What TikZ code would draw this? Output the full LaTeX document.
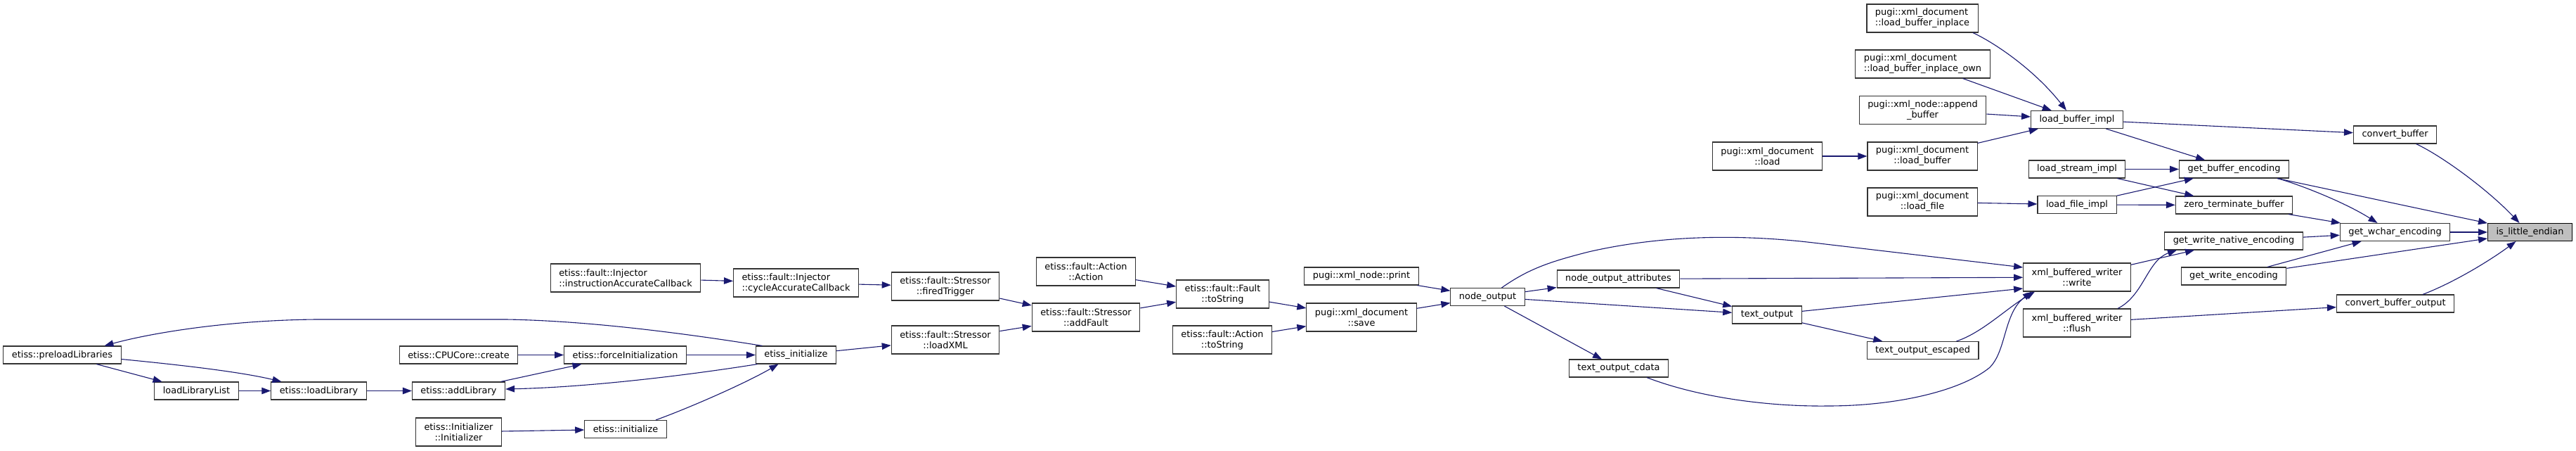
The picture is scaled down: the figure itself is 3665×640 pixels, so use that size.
\documentclass[tikz,border=0pt]{standalone}
\usepackage{fontspec}
\setmainfont{DejaVu Sans}
\usetikzlibrary{arrows.meta}
\definecolor{edgeblue}{HTML}{191970}
\definecolor{rootgray}{HTML}{BFBFBF}
\tikzset{
  fn/.style={draw=black!80, fill=white, line width=1.1pt, inner xsep=12pt, inner ysep=0pt,
    minimum height=25pt, font=\fontsize{12.9}{15}\selectfont},
  fntwo/.style={fn, minimum height=40pt, align=center},
  fnleft/.style={fn, minimum height=40pt, align=left},
  fnroot/.style={fn, draw=black, fill=rootgray},
  call/.style={draw=edgeblue, line width=1.1pt, -{Triangle[length=13pt,width=9.5pt]}}
}
\begin{document}
\begin{tikzpicture}[x=1pt, y=-1pt]
\useasboundingbox (0,0) rectangle (3665,640);
% etiss callers
\node[fn] (pre) at (88.5,504.5) {etiss::preloadLibraries};
\node[fn] (llist) at (279.5,555.5) {loadLibraryList};
\node[fn] (lload) at (453.5,555.5) {etiss::loadLibrary};
\node[fn] (create) at (652.5,504.5) {etiss::CPUCore::create};
\node[fn] (addlib) at (652.5,555.5) {etiss::addLibrary};
\node[fntwo] (initr) at (652.5,614) {etiss::Initializer\\::Initializer};
\node[fnleft] (instr) at (890,395) {etiss::fault::Injector\\::instructionAccurateCallback};
\node[fn] (force) at (889.5,504.5) {etiss::forceInitialization};
\node[fn] (init) at (890,610) {etiss::initialize};
\node[fnleft] (cycle) at (1132.5,402) {etiss::fault::Injector\\::cycleAccurateCallback};
\node[fn] (einit) at (1132.5,504.5) {etiss\_initialize};
\node[fntwo] (fired) at (1345,407) {etiss::fault::Stressor\\::firedTrigger};
\node[fntwo] (lxml) at (1345,483) {etiss::fault::Stressor\\::loadXML};
\node[fntwo] (action) at (1545,386) {etiss::fault::Action\\::Action};
\node[fntwo] (addf) at (1545,451) {etiss::fault::Stressor\\::addFault};
\node[fntwo] (fts) at (1739.5,418) {etiss::fault::Fault\\::toString};
\node[fntwo] (ats) at (1739,483) {etiss::fault::Action\\::toString};
% pugixml
\node[fn] (print) at (1937,392.5) {pugi::xml\_node::print};
\node[fntwo] (save) at (1937,451) {pugi::xml\_document\\::save};
\node[fn] (nout) at (2116.5,422) {node\_output};
\node[fn] (nattr) at (2302.5,396.5) {node\_output\_attributes};
\node[fn] (tcdata) at (2303,523.5) {text\_output\_cdata};
\node[fn] (tout) at (2514,447.5) {text\_output};
\node[fntwo] (dload) at (2514.5,222) {pugi::xml\_document\\::load};
\node[fnleft] (inpl) at (2735,26) {pugi::xml\_document\\::load\_buffer\_inplace};
\node[fnleft] (inown) at (2735.5,91) {pugi::xml\_document\\::load\_buffer\_inplace\_own};
\node[fntwo] (append) at (2735.5,156.5) {pugi::xml\_node::append\\\_buffer};
\node[fntwo] (lbuf) at (2735,222) {pugi::xml\_document\\::load\_buffer};
\node[fntwo] (lfile) at (2735,287) {pugi::xml\_document\\::load\_file};
\node[fn] (tesc) at (2735.5,498) {text\_output\_escaped};
\node[fn] (lbimpl) at (2955,170) {load\_buffer\_impl};
\node[fn] (lsimpl) at (2955,240.5) {load\_stream\_impl};
\node[fn] (lfimpl) at (2955,291) {load\_file\_impl};
\node[fntwo] (write) at (2955,394) {xml\_buffered\_writer\\::write};
\node[fntwo] (flush) at (2955,459) {xml\_buffered\_writer\\::flush};
\node[fn] (gbenc) at (3178.5,240.5) {get\_buffer\_encoding};
\node[fn] (zterm) at (3178.5,291.5) {zero\_terminate\_buffer};
\node[fn] (gwnat) at (3178,342.5) {get\_write\_native\_encoding};
\node[fn] (gwenc) at (3178,392.5) {get\_write\_encoding};
\node[fn] (cbuf) at (3407.5,191.5) {convert\_buffer};
\node[fn] (gwchar) at (3407.5,330) {get\_wchar\_encoding};
\node[fn] (cbout) at (3408,431.5) {convert\_buffer\_output};
\node[fnroot] (ile) at (3599.5,330) {is\_little\_endian};
% straight calls
\foreach \a/\b in {pre/llist, llist/lload, lload/addlib, create/force, force/einit,
    initr/init, instr/cycle, cycle/fired, fired/addf, einit/lxml, lxml/addf,
    addf/fts, action/fts, fts/save, ats/save, print/nout, save/nout, nout/nattr,
    nout/tout, nattr/tout, nout/tcdata, nattr/write, tout/tesc, flush/cbout,
    dload/lbuf, lbuf/lbimpl, append/lbimpl, inown/lbimpl, lbimpl/cbuf, lbimpl/gbenc,
    lsimpl/gbenc, lsimpl/zterm, lfile/lfimpl, lfimpl/gbenc, lfimpl/zterm, gbenc/ile,
    zterm/gwchar, gwnat/gwchar, gwenc/gwchar, gwenc/ile, gwchar/ile}
  \draw[call] (\a) -- (\b);
% bent calls
\draw[call] ([yshift=-6pt]pre.east) .. controls (250,518) and (340,528) .. ([xshift=-53pt]lload.north);
\draw[call] ([xshift=60pt]addlib.north) -- ([xshift=-62pt]force.south);
\draw[call] ([xshift=-48pt]einit.north) .. controls (1000,478) and (850,456) .. (720,454)
  -- (450,454) .. controls (330,455) and (220,472) .. ([xshift=60pt]pre.north);
\draw[call] ([xshift=-55pt]einit.south) .. controls (1000,530) and (850,550) .. ([yshift=2.5pt]addlib.east);
\draw[call] ([xshift=43pt]init.north) .. controls (980,580) and (1060,545) .. ([xshift=-25pt]einit.south);
\draw[call] ([xshift=20pt]nout.north) .. controls (2175,382) and (2205,372) .. (2260,358)
  .. controls (2360,335) and (2470,332) .. (2580,345) -- ([yshift=14pt]write.west);
\draw[call] (tout) -- ([yshift=-16pt]write.west);
\draw[call] ([xshift=48pt]tesc.north) .. controls (2820,473) and (2855,438) .. ([xshift=-60pt]write.south);
\draw[call] ([xshift=40pt]tcdata.south) .. controls (2420,566) and (2520,578) .. (2600,577)
  .. controls (2700,577) and (2790,555) .. (2830,523)
  .. controls (2855,500) and (2850,445) .. ([xshift=-64pt]write.south);
\draw[call] (write) -- ([xshift=-56pt]gwnat.south);
\draw[call] ([xshift=58pt]flush.north) .. controls (3050,420) and (3055,370) .. ([xshift=-81pt]gwnat.south);
\draw[call] ([xshift=72pt]inpl.south) .. controls (2840,62) and (2895,100) .. ([xshift=-15pt]lbimpl.north);
\draw[call] ([xshift=30pt]cbuf.south) .. controls (3475,222) and (3540,270) .. ([xshift=-15pt]ile.north);
\draw[call] ([xshift=62pt]gbenc.south) .. controls (3280,265) and (3340,290) .. ([xshift=-25pt]gwchar.north);
\draw[call] ([xshift=39pt]cbout.north) .. controls (3490,402) and (3540,372) .. ([xshift=-20pt]ile.south);
\end{tikzpicture}
\end{document}
